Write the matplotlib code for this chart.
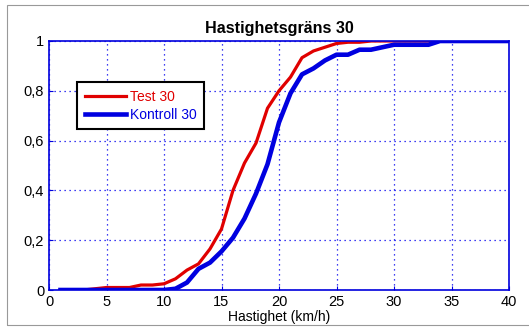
import matplotlib
matplotlib.use("Agg")
import matplotlib.pyplot as plt
from matplotlib.patches import Rectangle

plt.rcParams['font.family'] = ['Liberation Sans', 'DejaVu Sans']

# speed (km/h) and cumulative share
speed = list(range(1, 41))
test30 = [0, 0, 0, 0.005, 0.01, 0.01, 0.01, 0.02, 0.02, 0.025,
          0.045, 0.08, 0.105, 0.165, 0.245, 0.40, 0.51, 0.59, 0.73, 0.80,
          0.855, 0.933, 0.96, 0.975, 0.99, 0.995, 0.995, 1, 1, 1,
          1, 1, 1, 1, 1, 1, 1, 1, 1, 1]
kontroll30 = [0, 0, 0, 0, 0, 0, 0, 0, 0, 0,
              0.005, 0.03, 0.085, 0.11, 0.155, 0.21, 0.287, 0.387, 0.505, 0.673,
              0.79, 0.866, 0.89, 0.922, 0.945, 0.945, 0.965, 0.965, 0.975, 0.985,
              0.985, 0.985, 0.985, 1, 1, 1, 1, 1, 1, 1]

xticks = [0, 5, 10, 15, 20, 25, 30, 35, 40]
yticks = [0, 0.2, 0.4, 0.6, 0.8, 1]
ylabels = ['0', '0,2', '0,4', '0,6', '0,8', '1']

fig = plt.figure(figsize=(5.29, 3.27), dpi=100)
ax = fig.add_axes([49/529, 1-290/327, 460/529, 249/327])

# frame around the image
fig.patches.append(Rectangle((7/529, 2/327), 1.0, 1-7/327, transform=fig.transFigure,
                             fill=False, edgecolor='#999999', lw=0.8))

ax.plot(speed, test30, color='#e00000', lw=2.3, label='Test 30')
ax.plot(speed, kontroll30, color='#0000e0', lw=3.3, label='Kontroll 30')

ax.set_xlim(0, 40)
ax.set_ylim(0, 1)
ax.set_xticks(xticks)
ax.set_yticks(yticks)
ax.set_yticklabels(ylabels)
ax.tick_params(direction='in', colors='#0000dd', labelcolor='black', labelsize=10.5, length=3)
ax.grid(True, color='#0000ee', linestyle=(0, (1, 3)), lw=0.9)
for s in ax.spines.values():
    s.set_color('#0000dd')
    s.set_linewidth(1.2)

ax.set_title('Hastighetsgräns 30', fontsize=11.6, fontweight='bold', pad=6)
ax.set_xlabel('Hastighet (km/h)', fontsize=10, labelpad=1)

leg = ax.legend(loc='upper left', bbox_to_anchor=(28/460, 1-41/249), fontsize=10,
                fancybox=False, framealpha=1, edgecolor='black', borderpad=0.55,
                handlelength=3.0, handletextpad=0.25, labelspacing=0.3, borderaxespad=0)
leg.get_frame().set_linewidth(1.5)
for txt, c in zip(leg.get_texts(), ['#e00000', '#0000e0']):
    txt.set_color(c)

fig.savefig('out.png', dpi=100)
